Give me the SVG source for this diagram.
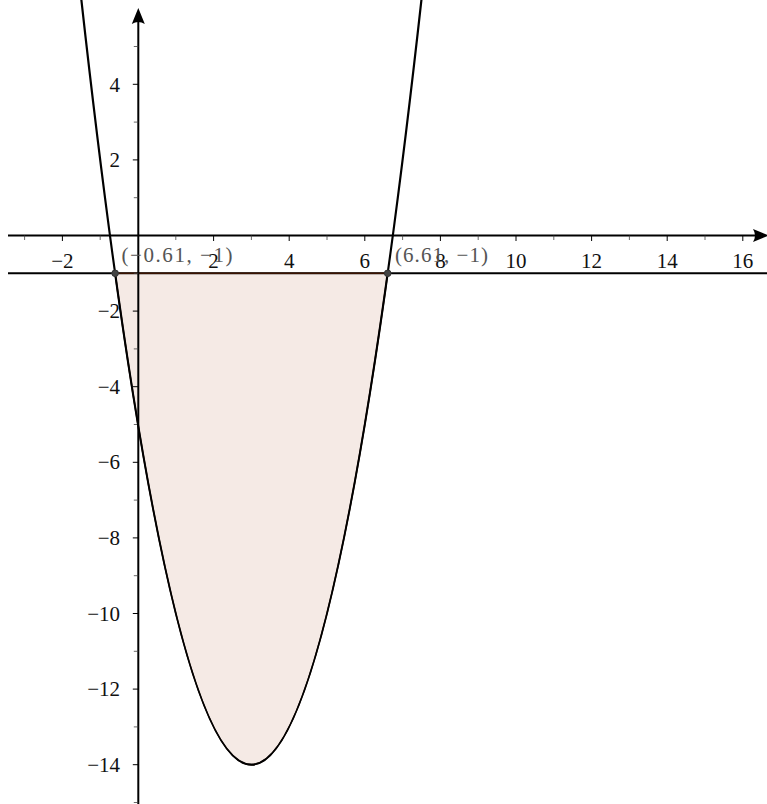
<svg xmlns="http://www.w3.org/2000/svg" width="767" height="804" viewBox="0 0 767 804">
<style>
.ax{stroke:#000;stroke-width:2;fill:none}
.maj{stroke:#000;stroke-width:1}
.min{stroke:#444;stroke-width:0.8}
.pt{fill:#444;stroke:#333;stroke-width:1}
</style>
<rect width="767" height="804" fill="#fff"/>
<g id="region">
<path d="M115.11,273.3 Q251.4,1256.1 387.69,273.3 Z" fill="#993300" fill-opacity="0.1" stroke="none"/>
</g>
<g id="connectors">
<line id="line-y-minus1" x1="8" y1="273.3" x2="767" y2="273.3" class="ax"/>
<path d="M115.11,273.3 Q251.4,1256.1 387.69,273.3 Z" fill="none" stroke="#3a1200" stroke-width="1.6"/>
</g>
<g id="axes">
<line x1="8" y1="235.5" x2="758" y2="235.5" class="ax"/>
<path d="M769,235.5 L753,229 Q757,235.5 753,242 Z" fill="#000"/>
<line x1="138.3" y1="20" x2="138.3" y2="804" class="ax"/>
<path d="M138.3,8 L131.8,24 Q138.3,20 144.8,24 Z" fill="#000"/>
<g id="xticks">
<path class="min" d="M24.6,235.5v4.5M100.2,235.5v4.5M175.8,235.5v4.5M251.4,235.5v4.5M327,235.5v4.5M402.6,235.5v4.5M478.2,235.5v4.5M553.8,235.5v4.5M629.4,235.5v4.5M705,235.5v4.5"/>
<path class="maj" d="M62.4,235.5v5.5M213.6,235.5v5.5M289.2,235.5v5.5M364.8,235.5v5.5M440.4,235.5v5.5M516,235.5v5.5M591.6,235.5v5.5M667.2,235.5v5.5M742.8,235.5v5.5"/>
</g>
<g id="yticks">
<path class="min" d="M138.3,46.5h-4.5M138.3,122.1h-4.5M138.3,197.7h-4.5M138.3,273.3h-4.5M138.3,348.9h-4.5M138.3,424.5h-4.5M138.3,500.1h-4.5M138.3,575.7h-4.5M138.3,651.3h-4.5M138.3,726.9h-4.5M138.3,802.5h-4.5"/>
<path class="maj" d="M138.3,84.3h-5.5M138.3,159.9h-5.5M138.3,311.1h-5.5M138.3,386.7h-5.5M138.3,462.3h-5.5M138.3,537.9h-5.5M138.3,613.5h-5.5M138.3,689.1h-5.5M138.3,764.7h-5.5"/>
</g>
<g id="xlabels" font-family="'Liberation Serif', serif" font-size="21" fill="#111" text-anchor="middle">
<text x="62.4" y="267.5">−2</text>
<text x="213.6" y="267.5">2</text>
<text x="289.2" y="267.5">4</text>
<text x="364.8" y="267.5">6</text>
<text x="440.4" y="267.5">8</text>
<text x="516" y="267.5">10</text>
<text x="591.6" y="267.5">12</text>
<text x="667.2" y="267.5">14</text>
<text x="742.8" y="267.5">16</text>
</g>
<g id="ylabels" font-family="'Liberation Serif', serif" font-size="21" fill="#111" text-anchor="end">
<text x="120" y="91.5">4</text>
<text x="120" y="167">2</text>
<text x="120" y="318">−2</text>
<text x="120" y="393.7">−4</text>
<text x="120" y="469.3">−6</text>
<text x="120" y="545">−8</text>
<text x="120" y="620.5">−10</text>
<text x="120" y="696">−12</text>
<text x="120" y="771.7">−14</text>
</g>
</g>
<g id="parabola">
<path d="M77.52,-35.15 Q251.4,1564.55 425.28,-35.15" fill="none" stroke="#000" stroke-width="2.2"/>
</g>
<g id="point-A">
<circle class="pt" cx="115.11" cy="273.3" r="3.3"/>
<text font-family="'Liberation Serif', serif" font-size="21" fill="#555" x="121.5" y="261.7" textLength="111" lengthAdjust="spacing">(−0.61, −1)</text>
</g>
<g id="point-B">
<circle class="pt" cx="387.69" cy="273.3" r="3.3"/>
<text font-family="'Liberation Serif', serif" font-size="21" fill="#555" x="395" y="261.7" textLength="93" lengthAdjust="spacing">(6.61, −1)</text>
</g>
</svg>
